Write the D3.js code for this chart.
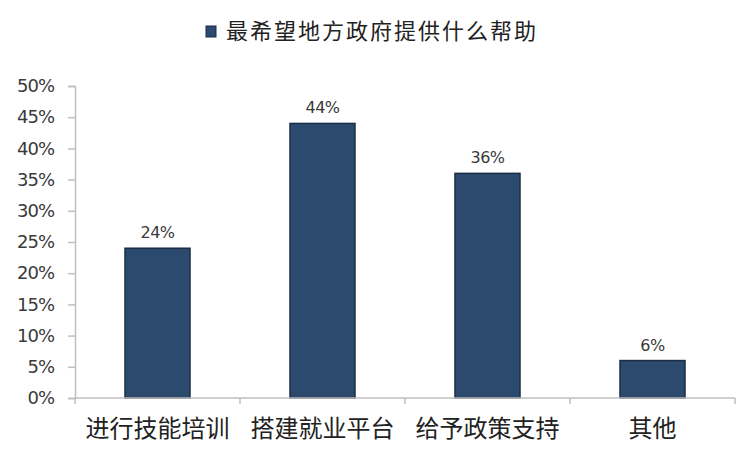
<!DOCTYPE html>
<html><head><meta charset="utf-8">
<script src="https://cdn.jsdelivr.net/npm/d3@7"></script>
<style>
html,body{margin:0;padding:0;background:#fff;}
svg{display:block;font-family:"Noto Sans CJK SC","Noto Sans",sans-serif;}
</style></head>
<body><svg id="c" width="750" height="458"></svg>
<script>
const categories = ["进行技能培训","搭建就业平台","给予政策支持","其他"];
const values = [0.24, 0.44, 0.36, 0.06];
const valueLabels = ["24%","44%","36%","6%"];
const yTicks = [0,0.05,0.10,0.15,0.20,0.25,0.30,0.35,0.40,0.45,0.50];
const seriesName = "最希望地方政府提供什么帮助";

const svg = d3.select("#c");
const x = d3.scaleBand().domain(categories).range([75,735]).paddingInner(0.606).paddingOuter(0.303);
const y = d3.scaleLinear().domain([0,0.5]).range([398,86]);
const barColor = "#2b4a6e", barStroke = "#1b2d44", axisColor = "#bfbfbf", textColor = "#3a3a3a";

// y axis
const ya = svg.append("g").attr("transform","translate(75,0)")
  .call(d3.axisLeft(y).tickValues(yTicks).tickFormat(d3.format(".0%")).tickSize(7).tickPadding(14));
ya.select(".domain").attr("stroke",axisColor).attr("stroke-width",1.5);
ya.selectAll(".tick line").attr("stroke",axisColor).attr("stroke-width",1.5);
ya.selectAll(".tick text").attr("fill",textColor).attr("font-size",18).attr("font-family","'DejaVu Sans',Verdana,sans-serif").attr("letter-spacing",-1);

// bars
svg.append("g").selectAll("rect").data(values).join("rect")
  .attr("x",(d,i)=>x(categories[i]))
  .attr("y",d=>y(d))
  .attr("width",x.bandwidth())
  .attr("height",d=>y(0)-y(d))
  .attr("fill",barColor).attr("stroke",barStroke).attr("stroke-width",1.5);

// x axis
const step = x.step();
const xa = svg.append("g").attr("transform","translate(0,398)");
xa.append("line").attr("x1",75).attr("x2",735).attr("y1",0).attr("y2",0).attr("stroke",axisColor).attr("stroke-width",1.5);
const bounds = d3.range(categories.length+1).map(i=>75+i*step);
xa.selectAll("line.t").data(bounds).join("line").attr("class","t")
  .attr("x1",d=>d).attr("x2",d=>d).attr("y1",0).attr("y2",6).attr("stroke",axisColor).attr("stroke-width",1.5);
xa.selectAll("text").data(categories).join("text")
  .attr("x",d=>x(d)+x.bandwidth()/2).attr("y",39)
  .attr("text-anchor","middle").attr("font-size",24).attr("fill","#222").text(d=>d);

// value labels
svg.append("g").selectAll("text").data(values).join("text")
  .attr("x",(d,i)=>x(categories[i])+x.bandwidth()/2)
  .attr("y",d=>y(d)-10)
  .attr("text-anchor","middle").attr("font-size",16).attr("fill",textColor)
  .attr("font-family","'DejaVu Sans',Verdana,sans-serif").attr("letter-spacing",-0.5)
  .text((d,i)=>valueLabels[i]);

// legend
svg.append("rect").attr("x",206).attr("y",26).attr("width",10).attr("height",11).attr("fill",barColor).attr("stroke",barStroke);
svg.append("text").attr("x",226).attr("y",39).attr("font-size",22).attr("letter-spacing",2).attr("fill","#222").text(seriesName);
</script></body></html>
